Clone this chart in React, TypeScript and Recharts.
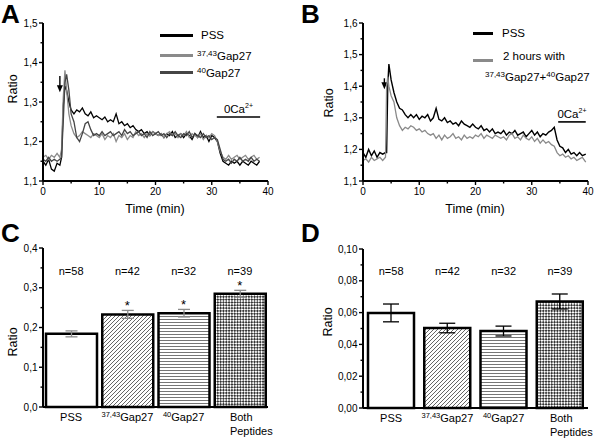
import React from "react";
import {
  LineChart,
  Line,
  XAxis,
  YAxis,
  ReferenceLine,
  ReferenceDot,
  Legend,
  BarChart,
  Bar,
  Cell,
  ErrorBar,
} from "recharts";

const FONT = "'Liberation Sans', Arial, Helvetica, sans-serif";

// ---------------- Panel A data ----------------
const seriesNamesA = ["PSS", "37,43Gap27", "40Gap27"];
const timeA = [
  0, 0.5, 1, 1.5, 2, 2.5, 3, 3.3, 3.6, 3.9,
  4.2, 4.6, 5, 5.5, 6, 6.5, 7, 7.5, 8, 8.5,
  9, 9.5, 10, 10.5, 11, 11.5, 12, 12.5, 13, 13.5,
  14, 14.5, 15, 15.5, 16, 16.5, 17, 17.5, 18, 18.5,
  19, 19.5, 20, 20.5, 21, 21.5, 22, 22.5, 23, 23.5,
  24, 24.5, 25, 25.5, 26, 26.5, 27, 27.5, 28, 28.5,
  29, 29.5, 30, 30.5, 31, 31.5, 32, 32.5, 33, 33.5,
  34, 34.5, 35, 35.5, 36, 36.5, 37, 37.5, 38, 38.5,
];
const pssA = [
  1.15, 1.14, 1.155, 1.13, 1.125, 1.145, 1.14, 1.16, 1.29, 1.34,
  1.33, 1.30, 1.28, 1.27, 1.28, 1.275, 1.285, 1.27, 1.265, 1.275,
  1.26, 1.265, 1.26, 1.255, 1.262, 1.25, 1.255, 1.25, 1.27, 1.245,
  1.25, 1.24, 1.245, 1.235, 1.24, 1.23, 1.225, 1.23, 1.22, 1.225,
  1.215, 1.225, 1.22, 1.215, 1.22, 1.21, 1.22, 1.215, 1.225, 1.21,
  1.215, 1.22, 1.21, 1.22, 1.215, 1.205, 1.22, 1.21, 1.225, 1.21,
  1.215, 1.2, 1.215, 1.21, 1.2, 1.17, 1.15, 1.145, 1.14, 1.15,
  1.145, 1.15, 1.14, 1.15, 1.145, 1.14, 1.15, 1.145, 1.14, 1.15,
];
const gap3743A = [
  1.16, 1.165, 1.155, 1.165, 1.16, 1.17, 1.16, 1.18, 1.31, 1.38,
  1.33, 1.27, 1.24, 1.22, 1.21, 1.215, 1.225, 1.22, 1.215, 1.21,
  1.22, 1.215, 1.21, 1.22, 1.205, 1.215, 1.21, 1.22, 1.2, 1.215,
  1.21, 1.22, 1.205, 1.215, 1.21, 1.225, 1.215, 1.22, 1.21, 1.22,
  1.215, 1.225, 1.22, 1.215, 1.22, 1.21, 1.22, 1.225, 1.215, 1.22,
  1.21, 1.22, 1.215, 1.225, 1.21, 1.22, 1.215, 1.21, 1.22, 1.205,
  1.215, 1.21, 1.22, 1.215, 1.2, 1.175, 1.16, 1.155, 1.165, 1.155,
  1.16, 1.165, 1.155, 1.16, 1.165, 1.155, 1.16, 1.165, 1.155, 1.16,
];
const gap40A = [
  1.155, 1.15, 1.16, 1.15, 1.155, 1.15, 1.155, 1.16, 1.25, 1.35,
  1.37, 1.33, 1.27, 1.25, 1.21, 1.2, 1.22, 1.245, 1.25, 1.23,
  1.215, 1.22, 1.215, 1.225, 1.215, 1.22, 1.225, 1.215, 1.22, 1.225,
  1.215, 1.23, 1.22, 1.225, 1.215, 1.22, 1.225, 1.215, 1.22, 1.21,
  1.225, 1.215, 1.22, 1.225, 1.215, 1.22, 1.21, 1.22, 1.215, 1.225,
  1.215, 1.21, 1.22, 1.215, 1.225, 1.21, 1.22, 1.215, 1.21, 1.22,
  1.21, 1.215, 1.205, 1.21, 1.205, 1.18, 1.155, 1.15, 1.155, 1.145,
  1.155, 1.15, 1.16, 1.15, 1.155, 1.15, 1.16, 1.15, 1.155, 1.15,
];
const yTicksA = [1.1, 1.15, 1.2, 1.25, 1.3, 1.35, 1.4, 1.45, 1.5];
const yMajorA = [1.1, 1.2, 1.3, 1.4, 1.5];
const yLabelsA = ["1,1", "1,2", "1,3", "1,4", "1,5"];
const arrowA = { t: 3.0, from: 1.366, to: 1.325 };
const zeroCaA = { from: 30.9, to: 38.6, y: 1.262 };

// ---------------- Panel B data ----------------
const seriesNamesB = ["PSS", "2 hours with 37,43Gap27+40Gap27"];
const timeB = [
  0, 0.5, 1, 1.5, 2, 2.5, 3, 3.5, 4, 4.2,
  4.4, 4.6, 5, 5.5, 6, 6.5, 7, 7.5, 8, 8.5,
  9, 9.5, 10, 10.5, 11, 11.5, 12, 12.5, 13, 13.5,
  14, 14.5, 15, 15.5, 16, 16.5, 17, 17.5, 18, 18.5,
  19, 19.5, 20, 20.5, 21, 21.5, 22, 22.5, 23, 23.5,
  24, 24.5, 25, 25.5, 26, 26.5, 27, 27.5, 28, 28.5,
  29, 29.5, 30, 30.5, 31, 31.5, 32, 32.5, 33, 33.5,
  34, 34.5, 35, 35.5, 36, 36.5, 37, 37.5, 38, 38.5,
  39, 39.6,
];
const pssB = [
  1.19, 1.175, 1.2, 1.18, 1.195, 1.175, 1.19, 1.185, 1.19, 1.19,
  1.40, 1.47, 1.42, 1.38, 1.35, 1.33, 1.325, 1.31, 1.30, 1.31,
  1.30, 1.31, 1.295, 1.305, 1.30, 1.31, 1.29, 1.30, 1.33, 1.295,
  1.29, 1.30, 1.285, 1.29, 1.28, 1.285, 1.275, 1.29, 1.28, 1.275,
  1.27, 1.28, 1.27, 1.265, 1.275, 1.26, 1.265, 1.255, 1.265, 1.25,
  1.255, 1.25, 1.26, 1.245, 1.255, 1.25, 1.26, 1.245, 1.25, 1.255,
  1.24, 1.25, 1.26, 1.245, 1.255, 1.24, 1.25, 1.245, 1.255, 1.26,
  1.27, 1.23, 1.21, 1.205, 1.19, 1.2, 1.185, 1.19, 1.18, 1.19,
  1.18, 1.185,
];
const grayB = [
  1.165, 1.17, 1.16, 1.175, 1.165, 1.17, 1.175, 1.165, 1.175, 1.40,
  1.43, 1.40, 1.37, 1.35, 1.30, 1.275, 1.26, 1.27, 1.265, 1.275,
  1.27, 1.26, 1.265, 1.255, 1.26, 1.25, 1.245, 1.25, 1.235, 1.245,
  1.23, 1.245, 1.235, 1.24, 1.25, 1.235, 1.24, 1.23, 1.245, 1.235,
  1.24, 1.235, 1.245, 1.24, 1.25, 1.235, 1.245, 1.24, 1.235, 1.245,
  1.24, 1.235, 1.24, 1.23, 1.245, 1.25, 1.235, 1.24, 1.23, 1.245,
  1.235, 1.23, 1.24, 1.225, 1.235, 1.22, 1.23, 1.22, 1.225, 1.215,
  1.21, 1.19, 1.18, 1.185, 1.175, 1.18, 1.17, 1.175, 1.165, 1.17,
  1.175, 1.16,
];
const yTicksB = [1.1, 1.15, 1.2, 1.25, 1.3, 1.35, 1.4, 1.45, 1.5, 1.55, 1.6];
const yMajorB = [1.1, 1.2, 1.3, 1.4, 1.5, 1.6];
const yLabelsB = ["1,1", "1,2", "1,3", "1,4", "1,5", "1,6"];
const arrowB = { t: 3.8, from: 1.425, to: 1.39 };
const zeroCaB = { from: 34.7, to: 39.6, y: 1.287 };

const xTicks = [0, 5, 10, 15, 20, 25, 30, 35, 40];
const xMajor = [0, 10, 20, 30, 40];
const xLabels = ["0", "10", "20", "30", "40"];

// ---------------- Panels C / D data ----------------
const categories = ["PSS", "37,43Gap27", "40Gap27", "Both Peptides"];
const catSup = ["", "37,43", "40", ""];
const catMain = ["PSS", "Gap27", "Gap27", "Both"];
const catLine2 = ["", "", "", "Peptides"];
const nCounts = [58, 42, 32, 39];

const meanC = [0.184, 0.233, 0.236, 0.285];
const errC = [0.0075, 0.01, 0.0095, 0.0085];
const starC = [false, true, true, true];
const yTicksC = [0, 0.05, 0.1, 0.15, 0.2, 0.25, 0.3, 0.35, 0.4];
const yMajorC = [0, 0.1, 0.2, 0.3, 0.4];
const yLabelsC = ["0,0", "0,1", "0,2", "0,3", "0,4"];
const nRowC = 0.342;

const meanD = [0.0598, 0.0503, 0.0484, 0.067];
const errD = [0.0056, 0.003, 0.0031, 0.0047];
const starD = [false, false, false, false];
const yTicksD = [0, 0.01, 0.02, 0.03, 0.04, 0.05, 0.06, 0.07, 0.08, 0.09, 0.1];
const yMajorD = [0, 0.02, 0.04, 0.06, 0.08, 0.1];
const yLabelsD = ["0,00", "0,02", "0,04", "0,06", "0,08", "0,10"];
const nRowD = 0.086;

// ---------------- helpers ----------------
const AX = { stroke: "#000", strokeWidth: 2 };

function findIdx(list: number[], v: number) {
  return list.findIndex((m) => Math.abs(m - v) < 1e-9);
}

function makeYTick(majors: number[], labels: string[]) {
  return (props: any) => {
    const { x, y, payload } = props;
    const idx = findIdx(majors, payload.value);
    const major = idx >= 0;
    return (
      <g>
        <line x1={x} x2={x - (major ? 4 : 2.5)} y1={y} y2={y} stroke="#000" strokeWidth={1.4} />
        {major && (
          <text x={x - 5.5} y={y} dy="0.35em" textAnchor="end" fontSize={10} fontFamily={FONT} fill="#000">
            {labels[idx]}
          </text>
        )}
      </g>
    );
  };
}

function makeXTick(majors: number[], labels: string[]) {
  return (props: any) => {
    const { x, y, payload } = props;
    const idx = findIdx(majors, payload.value);
    const major = idx >= 0;
    return (
      <g>
        <line x1={x} x2={x} y1={y} y2={y + (major ? 4 : 2.5)} stroke="#000" strokeWidth={1.4} />
        {major && (
          <text x={x} y={y + 14} textAnchor="middle" fontSize={10} fontFamily={FONT} fill="#000">
            {labels[idx]}
          </text>
        )}
      </g>
    );
  };
}

const CatTick = (props: any) => {
  const { x, y, index } = props;
  const sup = catSup[index];
  const main = catMain[index];
  const second = catLine2[index];
  if (second) {
    const lx = x - 10;
    return (
      <text x={lx} y={y + 14} textAnchor="start" fontSize={11} fontFamily={FONT} fill="#000">
        <tspan x={lx}>{main}</tspan>
        <tspan x={lx} dy={14}>{second}</tspan>
      </text>
    );
  }
  return (
    <text x={x} y={y + 14} textAnchor="middle" fontSize={11} fontFamily={FONT} fill="#000">
      {sup ? (
        <>
          <tspan fontSize={7.5} dy={-4}>{sup}</tspan>
          <tspan dy={4}>{main}</tspan>
        </>
      ) : (
        main
      )}
    </text>
  );
};

function supHtml(s: string) {
  const parts = s.split("+");
  return parts.map((part, i) => {
    const m = part.match(/^([\d,]+)(.*)$/);
    return (
      <React.Fragment key={i}>
        {i > 0 ? "+" : null}
        {m ? (
          <>
            <span style={{ fontSize: 8, verticalAlign: "4px" }}>{m[1]}</span>
            {m[2]}
          </>
        ) : (
          part
        )}
      </React.Fragment>
    );
  });
}

function ordered(payload: any[], order: string[]) {
  return [...payload].sort((a, b) => order.indexOf(String(a.value)) - order.indexOf(String(b.value)));
}

const legendA = (props: any) => {
  const payload = ordered(props.payload || [], seriesNamesA);
  const rows = [0, 20, 37];
  return (
    <div style={{ position: "relative", width: 130, height: 60, fontFamily: FONT, fontSize: 11.5, color: "#000" }}>
      {payload.map((p: any, i: number) => (
        <div
          key={i}
          style={{ position: "absolute", left: 0, top: rows[i], height: 18, display: "flex", alignItems: "center", whiteSpace: "nowrap" }}
        >
          <span style={{ display: "inline-block", width: 33, height: 3, background: p.color, marginRight: i === 0 ? 8 : 4 }} />
          <span>{supHtml(String(p.value))}</span>
        </div>
      ))}
    </div>
  );
};

const legendB = (props: any) => {
  const payload = ordered(props.payload || [], seriesNamesB);
  const p0 = payload[0];
  const p1 = payload[1];
  const name1 = p1 ? String(p1.value) : "";
  const cut = name1.indexOf(" with ");
  const head = cut >= 0 ? name1.slice(0, cut + 5) : name1;
  const tail = cut >= 0 ? name1.slice(cut + 6) : "";
  return (
    <div style={{ position: "relative", width: 127, height: 62, fontFamily: FONT, fontSize: 11.5, color: "#000", whiteSpace: "nowrap" }}>
      {p0 && (
        <div style={{ position: "absolute", left: 0, top: 0, height: 18, display: "flex", alignItems: "center" }}>
          <span style={{ display: "inline-block", width: 20, height: 3, background: p0.color, marginRight: 9 }} />
          <span>{String(p0.value)}</span>
        </div>
      )}
      {p1 && (
        <>
          <span style={{ position: "absolute", left: 0, top: 35, width: 20, height: 3, background: p1.color }} />
          <div style={{ position: "absolute", left: 30, top: 26, lineHeight: "13px" }}>{head}</div>
          <div style={{ position: "absolute", left: 12, top: 44, lineHeight: "13px" }}>{supHtml(tail)}</div>
        </>
      )}
    </div>
  );
};

const ArrowShape = (props: any) => {
  const { x1, y1, x2, y2 } = props;
  const top = Math.min(y1, y2);
  const tip = Math.max(y1, y2);
  const x = (x1 + x2) / 2;
  return (
    <g>
      <line x1={x} x2={x} y1={top} y2={tip - 5} stroke="#000" strokeWidth={1.4} />
      <path d={`M${x - 3},${tip - 7} L${x + 3},${tip - 7} L${x},${tip} Z`} fill="#000" />
    </g>
  );
};

const caLabel = (props: any) => {
  const vb = props.viewBox || {};
  const cx = (vb.x ?? 0) + (vb.width ?? 0) / 2;
  const y = vb.y ?? 0;
  return (
    <text x={cx} y={y - 4} textAnchor="middle" fontSize={11.5} fontFamily={FONT} fill="#000">
      0Ca
      <tspan fontSize={7} dy={-5}>2+</tspan>
    </text>
  );
};

function centerText(txt: string, size: number, dy: number | string) {
  return (props: any) => {
    const vb = props.viewBox || {};
    const cx = (vb.x ?? 0) + (vb.width ?? 0) / 2;
    const cy = (vb.y ?? 0) + (vb.height ?? 0) / 2;
    return (
      <text x={cx} y={cy} dy={dy} textAnchor="middle" fontSize={size} fontFamily={FONT} fill="#000">
        {txt}
      </text>
    );
  };
}

function Overlay(props: { letter: string; ratioX: number; ratioY: number; timeX?: number }) {
  return (
    <svg width={300} height={219} style={{ position: "absolute", left: 0, top: 0, pointerEvents: "none", overflow: "visible" }}>
      <text x={1} y={23} fontSize={26} fontWeight="bold" fontFamily={FONT} fill="#000">
        {props.letter}
      </text>
      <text
        x={props.ratioX}
        y={props.ratioY}
        transform={`rotate(-90 ${props.ratioX} ${props.ratioY})`}
        textAnchor="middle"
        dy="0.35em"
        fontSize={12.5}
        fontFamily={FONT}
        fill="#000"
      >
        Ratio
      </text>
      {props.timeX !== undefined && (
        <text x={props.timeX} y={213} textAnchor="middle" fontSize={12.5} fontFamily={FONT} fill="#000">
          Time (min)
        </text>
      )}
    </svg>
  );
}

function ChartA() {
  const data = timeA.map((t, i) => ({ t, pss: pssA[i], g3743: gap3743A[i], g40: gap40A[i] }));
  return (
    <LineChart width={300} height={219} data={data} margin={{ top: 23, right: 32, left: 13, bottom: 8 }}>
      <XAxis dataKey="t" type="number" domain={[0, 40]} ticks={xTicks} interval={0} height={30} axisLine={AX} tickLine={false} tickSize={0} tickMargin={0} tick={makeXTick(xMajor, xLabels)} />
      <YAxis type="number" domain={[1.1, 1.5]} ticks={yTicksA} interval={0} width={30} axisLine={AX} tickLine={false} tickSize={0} tickMargin={0} tick={makeYTick(yMajorA, yLabelsA)} />
      <Legend layout="vertical" align="center" verticalAlign="middle" wrapperStyle={{ left: 160, top: 26, width: 130, height: 60 }} content={legendA} />
      <ReferenceLine segment={[{ x: arrowA.t, y: arrowA.from }, { x: arrowA.t, y: arrowA.to }]} shape={ArrowShape} ifOverflow="visible" />
      <ReferenceLine segment={[{ x: zeroCaA.from, y: zeroCaA.y }, { x: zeroCaA.to, y: zeroCaA.y }]} stroke="#000" strokeWidth={1.6} ifOverflow="visible" label={caLabel} />
      <Line dataKey="pss" name={seriesNamesA[0]} stroke="#000000" strokeWidth={1.3} dot={false} isAnimationActive={false} />
      <Line dataKey="g3743" name={seriesNamesA[1]} stroke="#8a8a8a" strokeWidth={1.3} dot={false} isAnimationActive={false} />
      <Line dataKey="g40" name={seriesNamesA[2]} stroke="#454545" strokeWidth={1.3} dot={false} isAnimationActive={false} />
    </LineChart>
  );
}

function ChartB() {
  const data = timeB.map((t, i) => ({ t, pss: pssB[i], both: grayB[i] }));
  return (
    <LineChart width={300} height={219} data={data} margin={{ top: 23, right: 12, left: 33, bottom: 8 }}>
      <XAxis dataKey="t" type="number" domain={[0, 40]} ticks={xTicks} interval={0} height={30} axisLine={AX} tickLine={false} tickSize={0} tickMargin={0} tick={makeXTick(xMajor, xLabels)} />
      <YAxis type="number" domain={[1.1, 1.6]} ticks={yTicksB} interval={0} width={30} axisLine={AX} tickLine={false} tickSize={0} tickMargin={0} tick={makeYTick(yMajorB, yLabelsB)} />
      <Legend layout="vertical" align="center" verticalAlign="middle" wrapperStyle={{ left: 173, top: 24, width: 127, height: 62 }} content={legendB} />
      <ReferenceLine segment={[{ x: arrowB.t, y: arrowB.from }, { x: arrowB.t, y: arrowB.to }]} shape={ArrowShape} ifOverflow="visible" />
      <ReferenceLine segment={[{ x: zeroCaB.from, y: zeroCaB.y }, { x: zeroCaB.to, y: zeroCaB.y }]} stroke="#000" strokeWidth={1.6} ifOverflow="visible" label={caLabel} />
      <Line dataKey="pss" name={seriesNamesB[0]} stroke="#000000" strokeWidth={1.4} dot={false} isAnimationActive={false} />
      <Line dataKey="both" name={seriesNamesB[1]} stroke="#8a8a8a" strokeWidth={1.3} dot={false} isAnimationActive={false} />
    </LineChart>
  );
}

function BarPanel(props: {
  pid: string;
  means: number[];
  errs: number[];
  stars: boolean[];
  yTicks: number[];
  yMajor: number[];
  yLabels: string[];
  yMax: number;
  nY: number;
  barSize: number;
  margin: any;
  errColor: string;
  errWidth: number;
}) {
  const { pid } = props;
  const data = categories.map((c, i) => ({
    name: c,
    mean: props.means[i],
    err: props.errs[i],
  }));
  const fills = ["#ffffff", `url(#${pid}-diag)`, `url(#${pid}-hor)`, `url(#${pid}-chk)`];
  return (
    <BarChart width={300} height={219} data={data} margin={props.margin}>
      <defs>
        <pattern id={`${pid}-diag`} patternUnits="userSpaceOnUse" width={4} height={4}>
          <rect width={4} height={4} fill="#fff" />
          <path d="M-1,1 L1,-1 M0,4 L4,0 M3,5 L5,3" stroke="#555" strokeWidth={0.9} />
        </pattern>
        <pattern id={`${pid}-hor`} patternUnits="userSpaceOnUse" width={4} height={3}>
          <rect width={4} height={3} fill="#fff" />
          <line x1={0} x2={4} y1={1.5} y2={1.5} stroke="#666" strokeWidth={0.9} />
        </pattern>
        <pattern id={`${pid}-chk`} patternUnits="userSpaceOnUse" width={4} height={4} patternTransform="rotate(45)">
          <rect width={4} height={4} fill="#fff" />
          <rect x={0} y={0} width={2} height={2} fill="#333" />
          <rect x={2} y={2} width={2} height={2} fill="#333" />
        </pattern>
      </defs>
      <XAxis dataKey="name" type="category" height={30} interval={0} axisLine={AX} tickLine={false} tickSize={0} tickMargin={0} tick={CatTick} />
      <YAxis type="number" domain={[0, props.yMax]} ticks={props.yTicks} interval={0} width={30} axisLine={AX} tickLine={false} tickSize={0} tickMargin={0} tick={makeYTick(props.yMajor, props.yLabels)} />
      <Bar dataKey="mean" barSize={props.barSize} stroke="#000" strokeWidth={2.5} isAnimationActive={false}>
        {data.map((d, i) => (
          <Cell key={i} fill={fills[i]} />
        ))}
        <ErrorBar dataKey="err" width={props.errWidth} stroke={props.errColor} strokeWidth={1.3} />
      </Bar>
      {data.map((d, i) => (
        <ReferenceDot key={`n${i}`} x={d.name} y={props.nY} r={1} fill="none" stroke="none" ifOverflow="visible" label={centerText(`n=${nCounts[i]}`, 11, "0.35em")} />
      ))}
      {data.map((d, i) =>
        props.stars[i] ? (
          <ReferenceDot key={`s${i}`} x={d.name} y={d.mean + d.err} r={1} fill="none" stroke="none" ifOverflow="visible" label={centerText("*", 13, 0)} />
        ) : null
      )}
    </BarChart>
  );
}

export default function App() {
  return (
    <div style={{ position: "absolute", left: 0, top: 0, width: 600, height: 438, background: "#fff", overflow: "hidden" }}>
      <div style={{ position: "absolute", left: 0, top: 0, width: 300, height: 219 }}>
        <ChartA />
        <Overlay letter="A" ratioX={13} ratioY={89} timeX={155} />
      </div>
      <div style={{ position: "absolute", left: 300, top: 0, width: 300, height: 219 }}>
        <ChartB />
        <Overlay letter="B" ratioX={29} ratioY={103} timeX={175} />
      </div>
      <div style={{ position: "absolute", left: 0, top: 219, width: 300, height: 219 }}>
        <BarPanel
          pid="c"
          means={meanC}
          errs={errC}
          stars={starC}
          yTicks={yTicksC}
          yMajor={yMajorC}
          yLabels={yLabelsC}
          yMax={0.4}
          nY={nRowC}
          barSize={51}
          margin={{ top: 29, right: 32, left: 13, bottom: 1 }}
          errColor="#8a8a8a"
          errWidth={6}
        />
        <Overlay letter="C" ratioX={13} ratioY={123} />
      </div>
      <div style={{ position: "absolute", left: 300, top: 219, width: 300, height: 219 }}>
        <BarPanel
          pid="d"
          means={meanD}
          errs={errD}
          stars={starD}
          yTicks={yTicksD}
          yMajor={yMajorD}
          yLabels={yLabelsD}
          yMax={0.1}
          nY={nRowD}
          barSize={46}
          margin={{ top: 30, right: 12, left: 33, bottom: 0 }}
          errColor="#000"
          errWidth={8}
        />
        <Overlay letter="D" ratioX={28} ratioY={103} />
      </div>
    </div>
  );
}
